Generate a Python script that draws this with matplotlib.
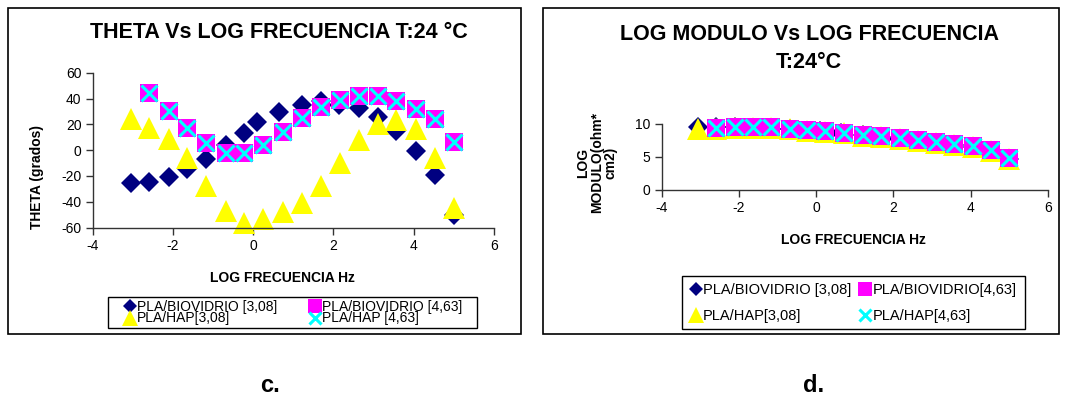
import matplotlib
matplotlib.use("Agg")
import matplotlib.pyplot as plt
from matplotlib.patches import Rectangle

plt.rcParams["font.family"] = ["Liberation Sans", "DejaVu Sans"]
plt.rcParams["axes.unicode_minus"] = False

# ---- data (panel c: theta vs log f) ----
x_bio308 = [-3.05, -2.59, -2.11, -1.64, -1.17, -0.69, -0.23, 0.09, 0.64, 1.21,
            1.68, 2.15, 2.63, 3.10, 3.57, 4.05, 4.52, 5.00]
theta_bio308 = [-25.3, -24.6, -20.7, -15.0, -7.2, 3.9, 13.5, 22.0, 29.7, 34.9,
                38.3, 34.9, 32.3, 25.9, 14.7, -0.8, -19.6, -50.4]

x_hap308 = [-3.05, -2.59, -2.11, -1.64, -1.17, -0.69, -0.23, 0.24, 0.73, 1.21,
            1.68, 2.16, 2.63, 3.10, 3.57, 4.05, 4.52, 5.00]
theta_hap308 = [23.8, 16.8, 8.3, -6.5, -27.9, -47.1, -56.4, -53.5, -47.8, -40.9,
                -27.9, -9.8, 7.8, 20.2, 23.3, 16.0, -6.5, -45.2]

x_463 = [-2.59, -2.11, -1.64, -1.17, -0.69, -0.23, 0.24, 0.73, 1.21, 1.68,
         2.16, 2.63, 3.10, 3.57, 4.05, 4.52, 5.00]
theta_bio463 = [44.5, 30.5, 16.8, 5.2, -2.1, -2.6, 3.9, 14.2, 24.6, 33.1,
                38.8, 41.9, 41.9, 38.0, 31.8, 24.1, 6.2]
theta_hap463 = [44.5, 30.5, 16.8, 5.2, -2.1, -2.6, 3.9, 14.2, 24.6, 33.1,
                38.8, 41.9, 41.9, 38.0, 31.8, 24.1, 6.2]

# ---- data (panel d: log modulus vs log f) ----
mod_bio308 = [9.6, 9.5, 9.5, 9.4, 9.3, 9.2, 9.0, 8.9, 8.7, 8.3,
              8.0, 7.7, 7.4, 7.1, 6.8, 6.5, 5.9, 4.6]
mod_hap308 = [9.3, 9.3, 9.4, 9.4, 9.4, 9.2, 9.0, 8.8, 8.6, 8.2,
              8.0, 7.7, 7.4, 7.1, 6.8, 6.5, 5.9, 4.6]
mod_bio463 = [9.4, 9.5, 9.5, 9.5, 9.3, 9.1, 8.9, 8.7, 8.3, 8.1,
              7.8, 7.5, 7.2, 6.9, 6.6, 6.0, 4.8]
mod_hap463 = [9.4, 9.5, 9.5, 9.5, 9.3, 9.1, 8.9, 8.7, 8.3, 8.1,
              7.8, 7.5, 7.2, 6.9, 6.6, 6.0, 4.8]

labels_c = ["PLA/BIOVIDRIO [3,08]", "PLA/BIOVIDRIO [4,63]", "PLA/HAP[3,08]", "PLA/HAP [4,63]"]
labels_d = ["PLA/BIOVIDRIO [3,08]", "PLA/BIOVIDRIO[4,63]", "PLA/HAP[3,08]", "PLA/HAP[4,63]"]

W, H = 1065, 396
fig = plt.figure(figsize=(W / 100, H / 100), dpi=100)


def px_axes(x0, x1, y0, y1):
    # pixel box (top-left origin) -> figure axes
    return fig.add_axes([x0 / W, 1 - y1 / H, (x1 - x0) / W, (y1 - y0) / H])


def fx(x):
    return x / W


def fy(y):
    return 1 - y / H


def px_box(x0, x1, y0, y1, lw):
    fig.patches.append(Rectangle((fx(x0), fy(y1)), fx(x1 - x0), (y1 - y0) / H,
                                 transform=fig.transFigure, fill=False,
                                 edgecolor="black", linewidth=lw))


# panel frames
px_box(8, 521, 8, 334, 1.2)
px_box(543, 1059, 8, 334, 1.2)


def style_axes(ax):
    for s in ["top", "right"]:
        ax.spines[s].set_visible(False)
    for s in ["left", "bottom"]:
        ax.spines[s].set_color("#333333")
        ax.spines[s].set_linewidth(1.0)
    ax.tick_params(direction="out", length=5, width=1.0, color="#333333",
                   labelsize=10, pad=3)
    ax.set_facecolor("none")


def draw_series(ax, xd, yd, xh, yh, x4, yb4, yh4, ms):
    h1, = ax.plot(xd, yd, "D", color="#000080", markersize=ms * 0.72,
                  markeredgewidth=0, clip_on=False)
    h3, = ax.plot(xh, yh, "^", color="#FFFF00", markersize=ms * 1.15,
                  markeredgewidth=0, clip_on=False)
    h2, = ax.plot(x4, yb4, "s", color="#FF00FF", markersize=ms * 0.92,
                  markeredgewidth=0, clip_on=False)
    h4, = ax.plot(x4, yh4, "x", color="#00FFFF", markersize=ms * 0.85,
                  markeredgewidth=2.2, clip_on=False)
    return h1, h2, h3, h4


# ---- panel c ----
ax1 = px_axes(92.7, 494, 72.7, 227.5)
style_axes(ax1)
hs = draw_series(ax1, x_bio308, theta_bio308, x_hap308, theta_hap308,
                 x_463, theta_bio463, theta_hap463, 14)
ax1.set_xlim(-4, 6)
ax1.set_ylim(-60, 60)
ax1.set_xticks(range(-4, 7, 2))
ax1.set_yticks(range(-60, 61, 20))
fig.text(fx(279), fy(32), "THETA Vs LOG FRECUENCIA T:24 °C", ha="center",
         va="center", fontsize=15.5, fontweight="bold")
fig.text(fx(282), fy(278), "LOG FRECUENCIA Hz", ha="center", va="center",
         fontsize=10, fontweight="bold")
fig.text(fx(37), fy(177), "THETA (grados)", ha="center", va="center",
         rotation=90, fontsize=10, fontweight="bold")
fig.legend([hs[0], hs[2], hs[1], hs[3]],
           [labels_c[0], labels_c[2], labels_c[1], labels_c[3]],
           ncol=2, loc="center", bbox_to_anchor=(fx(293), fy(312.5)),
           fontsize=10, frameon=False, borderpad=0.0, labelspacing=-0.15,
           handlelength=0.9, handletextpad=0.05, columnspacing=2.3,
           markerscale=0.75)
px_box(107.7, 477, 296.7, 328.3, 1.0)

# ---- panel d ----
ax2 = px_axes(661.7, 1048, 124, 189.7)
style_axes(ax2)
hs2 = draw_series(ax2, x_bio308, mod_bio308, x_hap308, mod_hap308,
                  x_463, mod_bio463, mod_hap463, 14)
ax2.set_xlim(-4, 6)
ax2.set_ylim(0, 10)
ax2.set_xticks(range(-4, 7, 2))
ax2.set_yticks([0, 5, 10])
fig.text(fx(809), fy(34), "LOG MODULO Vs LOG FRECUENCIA", ha="center",
         va="center", fontsize=15.5, fontweight="bold")
fig.text(fx(809), fy(62), "T:24°C", ha="center", va="center",
         fontsize=15.5, fontweight="bold")
fig.text(fx(853), fy(240), "LOG FRECUENCIA Hz", ha="center", va="center",
         fontsize=10, fontweight="bold")
fig.text(fx(597), fy(163), "LOG\nMODULO(ohm*\ncm2)", ha="center", va="center",
         rotation=90, fontsize=10, fontweight="bold", linespacing=1.0)
fig.legend([hs2[0], hs2[2], hs2[1], hs2[3]],
           [labels_d[0], labels_d[2], labels_d[1], labels_d[3]],
           ncol=2, loc="center", bbox_to_anchor=(fx(853), fy(303)),
           fontsize=10.5, frameon=False, borderpad=0.0, labelspacing=0.85,
           handlelength=0.9, handletextpad=0.05, columnspacing=0.5,
           markerscale=0.75)
px_box(681.5, 1025, 276, 328.5, 1.0)

# panel letters
fig.text(fx(270), fy(386), "c.", ha="center", va="center", fontsize=17,
         fontweight="bold")
fig.text(fx(814), fy(386), "d.", ha="center", va="center", fontsize=17,
         fontweight="bold")

fig.savefig("out.png", dpi=100)
